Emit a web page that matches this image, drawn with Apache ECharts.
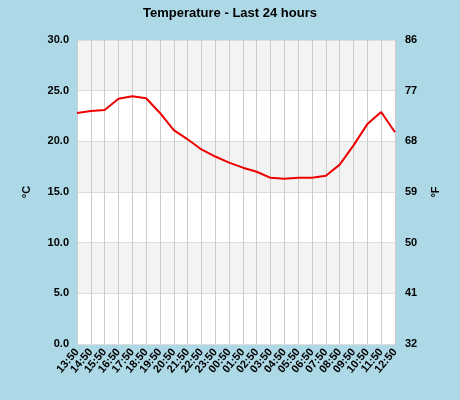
<!DOCTYPE html><html><head><meta charset="utf-8">
<script src="https://cdn.jsdelivr.net/npm/echarts@6/dist/echarts.min.js"></script>
<style>html,body{margin:0;padding:0;background:#add8e6}#c{width:460px;height:400px}</style></head><body><div id="c"></div>
<script>
const categories=["13:50","14:50","15:50","16:50","17:50","18:50","19:50","20:50","21:50","22:50","23:50","00:50","01:50","02:50","03:50","04:50","05:50","06:50","07:50","08:50","09:50","10:50","11:50","12:50"];
const temps=[22.8,23.0,23.1,24.2,24.45,24.25,22.8,21.1,20.2,19.2,18.5,17.9,17.4,17.0,16.4,16.3,16.4,16.4,16.6,17.7,19.6,21.7,22.9,20.9];
const cTicks=[0,5,10,15,20,25,30];
const fTicks=[32,41,50,59,68,77,86];
const chart=echarts.init(document.getElementById('c'));
const lbl={color:'#000',fontFamily:'Liberation Sans',fontWeight:'bold',fontSize:11};
chart.setOption({
 backgroundColor:'#add8e6',animation:false,
 title:{text:'Temperature - Last 24 hours',left:'center',top:2,textStyle:{fontFamily:'Liberation Sans',fontSize:13,fontWeight:'bold',color:'#000'}},
 grid:{left:77,right:65,top:40,bottom:56,show:true,backgroundColor:'#fff',borderWidth:0},
 xAxis:{type:'category',data:categories,boundaryGap:false,axisLine:{show:false},axisTick:{show:false},
  splitLine:{show:true,lineStyle:{color:'#ccc'}},axisLabel:Object.assign({rotate:50,interval:0,margin:6},lbl)},
 yAxis:[{type:'value',min:cTicks[0],max:cTicks[cTicks.length-1],interval:5,name:'°C',nameLocation:'middle',nameGap:45,nameRotate:90,nameTextStyle:lbl,
  axisLine:{show:false},axisTick:{show:false},axisLabel:Object.assign({formatter:v=>v.toFixed(1)},lbl),
  splitLine:{lineStyle:{color:'#ddd'}},splitArea:{show:true,areaStyle:{color:['#fff','#f3f3f3']}}},
  {type:'value',min:fTicks[0],max:fTicks[fTicks.length-1],interval:9,name:'°F',nameLocation:'middle',nameGap:35,nameRotate:90,nameTextStyle:lbl,
  axisLine:{show:false},axisTick:{show:false},axisLabel:Object.assign({margin:10},lbl),splitLine:{show:false}}],
 series:[{type:'line',data:temps,symbol:'none',lineStyle:{color:'#e00',width:2},itemStyle:{color:'#e00'}}]
});
</script></body></html>
